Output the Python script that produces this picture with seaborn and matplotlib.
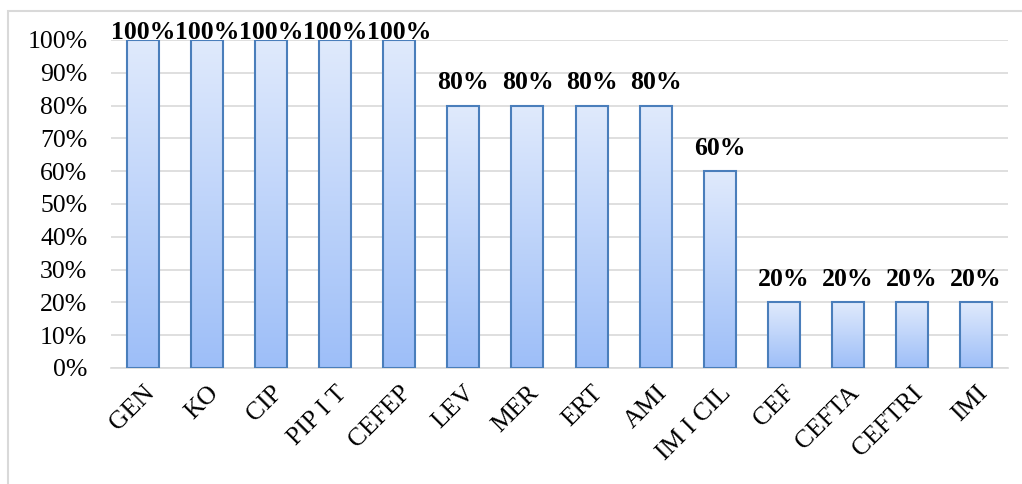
import numpy as np
import pandas as pd
import seaborn as sns
import matplotlib.pyplot as plt
from matplotlib.colors import LinearSegmentedColormap
from matplotlib.patches import Rectangle

# Data
categories = ["GEN", "KO", "CIP", "PIP I T", "CEFEP", "LEV", "MER", "ERT",
              "AMI", "IM I CIL", "CEF", "CEFTA", "CEFTRI", "IMI"]
values = [100, 100, 100, 100, 100, 80, 80, 80, 80, 60, 20, 20, 20, 20]

df = pd.DataFrame({"drug": categories, "pct": values})

sns.set_style("white")
plt.rcParams['font.family'] = ['Liberation Serif', 'DejaVu Serif']
plt.rcParams['text.color'] = 'black'
plt.rcParams['xtick.color'] = 'black'
plt.rcParams['ytick.color'] = 'black'

fig = plt.figure(figsize=(10.22, 4.84), dpi=100)
ax = fig.add_axes([0.1086, 0.2397, 0.8777, 0.6777])

sns.barplot(data=df, x="drug", y="pct", ax=ax, width=0.5,
            color="#c6d9f8", edgecolor="#4a7ebb", linewidth=1.5, zorder=3)

# gradient fill in each bar
cmap = LinearSegmentedColormap.from_list("grad", ["#9dbef8", "#e0eafc"])
grad = np.linspace(0, 1, 256).reshape(-1, 1)
for p in ax.patches:
    x0, y0 = p.get_x(), p.get_y()
    w, h = p.get_width(), p.get_height()
    im = ax.imshow(grad, cmap=cmap, aspect="auto", origin="lower",
                   extent=[x0, x0 + w, y0, y0 + h], zorder=3)
    im.set_clip_path(p)
    p.set_facecolor("none")
    p.set_zorder(4)

ax.set_xlim(-0.5, len(categories) - 0.5)
ax.set_ylim(0, 100)
ax.set_yticks(range(0, 101, 10))
ax.set_yticklabels([f"{t}%" for t in range(0, 101, 10)], fontsize=18.5)
ax.set_xticks(range(len(categories)))
ax.set_xticklabels(categories, fontsize=18.5, rotation=45, ha="right",
                   rotation_mode="anchor")
ax.tick_params(axis="x", pad=10, length=0, colors="black")
ax.tick_params(axis="y", pad=17, length=0, colors="black")
ax.set_xlabel("")
ax.set_ylabel("")

ax.yaxis.grid(True, color="#d9d9d9", linewidth=1.2, zorder=0)
ax.set_axisbelow(True)
for s in ["top", "right", "left"]:
    ax.spines[s].set_visible(False)
ax.spines["bottom"].set_color("#d9d9d9")
ax.spines["bottom"].set_linewidth(1.2)

for i, v in enumerate(values):
    off = 0.3 if v >= 100 else 5
    ax.text(i, v + off, f"{v}%", ha="center", va="baseline", fontsize=18.5,
            fontweight="bold", color="black", zorder=5, clip_on=False)

# outer chart border (runs off the right and bottom edges)
fig.patches.append(Rectangle((0.008, -0.05), 1.05, 1.028, transform=fig.transFigure,
                             fill=False, edgecolor="#d9d9d9", linewidth=1.5))

plt.savefig("out.png", dpi=100)
plt.close()
